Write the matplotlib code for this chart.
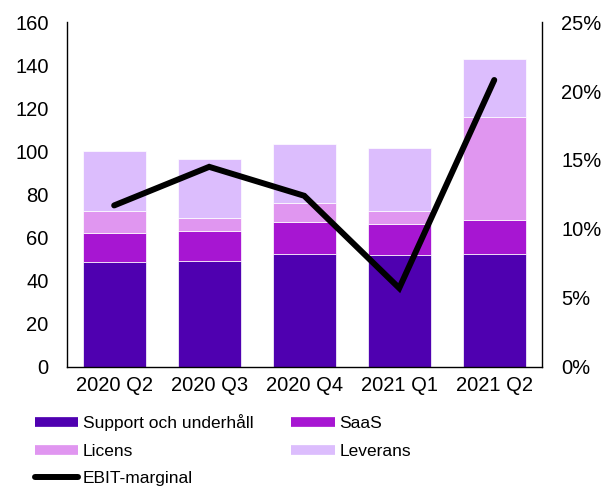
import numpy as np
import matplotlib.pyplot as plt
from matplotlib.lines import Line2D

plt.rcParams['font.family'] = ['Liberation Sans', 'DejaVu Sans']

# Data
quarters = ['2020 Q2', '2020 Q3', '2020 Q4', '2021 Q1', '2021 Q2']
support = [48.6, 49.2, 52.4, 51.9, 52.4]
saas = [13.4, 13.9, 14.6, 14.4, 15.6]
licens = [10.2, 6.0, 9.1, 6.1, 47.8]
leverans = [28.0, 27.2, 27.2, 29.0, 27.2]
ebit_margin = [11.7, 14.5, 12.4, 5.7, 20.8]  # procent

series = [('Support och underhåll', support, '#4f00b0'),
          ('SaaS', saas, '#a716d2'),
          ('Licens', licens, '#e096f0'),
          ('Leverans', leverans, '#dcbdfd')]

fig = plt.figure(figsize=(6.06, 4.86), dpi=100)
ax = fig.add_axes([0.110, 0.2455, 0.784, 0.709])
x = np.arange(len(quarters))

bottom = np.zeros(len(quarters))
for name, vals, col in series:
    ax.bar(x, vals, width=0.66, bottom=bottom, color=col, edgecolor='white', linewidth=0.5)
    bottom += np.array(vals)

ax.set_xlim(-0.5, 4.5)
ax.set_ylim(0, 160)
ax.set_yticks(range(0, 161, 20))
ax.set_xticks(x)
ax.set_xticklabels(quarters)
ax.tick_params(axis='y', length=0, labelsize=14.5, pad=13)
ax.tick_params(axis='x', length=0, labelsize=14.5, pad=7)
ax.spines['top'].set_visible(False)
ax.spines['right'].set_visible(False)
for s in ['left', 'bottom']:
    ax.spines[s].set_linewidth(1.0)

ax2 = ax.twinx()
ax2.plot(x, ebit_margin, color='black', linewidth=4.3, solid_capstyle='round', solid_joinstyle='miter')
ax2.set_ylim(0, 25)
ax2.set_yticks(range(0, 26, 5))
ax2.set_yticklabels([f'{v}%' for v in range(0, 26, 5)])
ax2.tick_params(axis='y', length=0, labelsize=14.5, pad=14)
ax2.spines['top'].set_visible(False)
ax2.spines['left'].set_visible(False)
ax2.spines['bottom'].set_visible(False)
ax2.spines['right'].set_linewidth(1.0)

handles = [Line2D([], [], color=series[0][2], lw=7, solid_capstyle='butt'),
           Line2D([], [], color=series[2][2], lw=7, solid_capstyle='butt'),
           Line2D([], [], color='black', lw=4.3, solid_capstyle='round'),
           Line2D([], [], color=series[1][2], lw=7, solid_capstyle='butt'),
           Line2D([], [], color=series[3][2], lw=7, solid_capstyle='butt')]
labels = [series[0][0], series[2][0], 'EBIT-marginal', series[1][0], series[3][0]]
fig.legend(handles, labels, loc='upper left', bbox_to_anchor=(0.046, 0.162), ncol=2,
           frameon=False, fontsize=12.5, handlelength=2.5, handletextpad=0.25,
           labelspacing=0.72, columnspacing=2.2, borderaxespad=0)

fig.savefig('out.png', dpi=100)
